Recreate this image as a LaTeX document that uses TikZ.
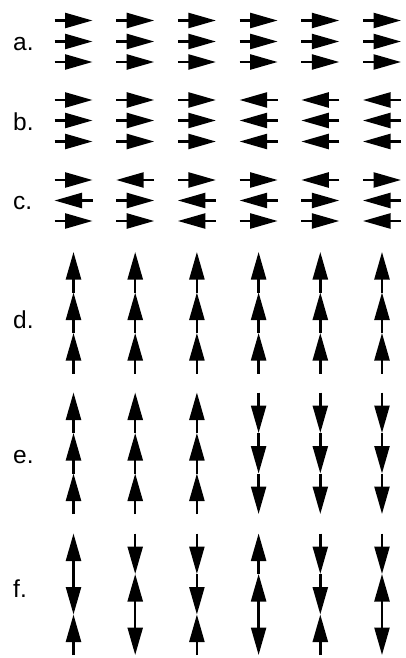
\documentclass[tikz,border=0pt]{standalone}
\usepackage{fontspec}
\setmainfont{Liberation Sans}
\usetikzlibrary{arrows.meta}
\begin{document}
\begin{tikzpicture}[x=1pt,y=-1pt,
  spin/.style={line width=2.4pt, -{Triangle[length=27.5pt,width=15pt]}},
  rowlabel/.style={anchor=base west, inner sep=0pt, font=\fontsize{24.5}{28}\selectfont}]
\useasboundingbox (0,0) rectangle (406,658);

% row labels
\node[rowlabel] (la) at (13,51)  {a.};
\node[rowlabel] (lb) at (13,130) {b.};
\node[rowlabel] (lc) at (13,209) {c.};
\node[rowlabel] (ld) at (13,328) {d.};
\node[rowlabel] (le) at (13,463) {e.};
\node[rowlabel] (lf) at (13,597) {f.};

% horizontal spins: +1 points right, -1 points left
\foreach \r/\y/\dirs in {
  a1/20.5/{1,1,1,1,1,1}, a2/41.5/{1,1,1,1,1,1}, a3/62/{1,1,1,1,1,1},
  b1/100/{1,1,1,-1,-1,-1}, b2/120.5/{1,1,1,-1,-1,-1}, b3/141.5/{1,1,1,-1,-1,-1},
  c1/180/{1,-1,1,1,-1,1}, c2/200.5/{-1,1,-1,-1,1,-1}, c3/221/{1,1,-1,1,1,-1}}{
  \foreach \s [count=\i] in \dirs {
    \pgfmathsetmacro\xa{73.5+61.7*(\i-1)-19*\s}
    \pgfmathsetmacro\xb{73.5+61.7*(\i-1)+19*\s}
    \coordinate (t-\r-\i) at (\xa,\y);
    \coordinate (h-\r-\i) at (\xb,\y);
    \draw[spin] (t-\r-\i) -- (h-\r-\i);
  }
}

% vertical spins, three per column from top to bottom: +1 up, -1 down
\foreach \r/\ytop/\cols in {
  d/252/{{1,1,1},{1,1,1},{1,1,1},{1,1,1},{1,1,1},{1,1,1}},
  e/392.5/{{1,1,1},{1,1,1},{1,1,1},{-1,-1,-1},{-1,-1,-1},{-1,-1,-1}},
  f/533.5/{{1,-1,1},{-1,1,-1},{-1,-1,1},{1,1,-1},{-1,-1,1},{-1,1,-1}}}{
  \foreach \col [count=\i] in \cols {
    \pgfmathsetmacro\cx{73.5+61.7*(\i-1)}
    \foreach \s [count=\k] in \col {
      \pgfmathsetmacro\ya{\ytop+40.5*(\k-1)+20.25+20.25*\s}
      \pgfmathsetmacro\yb{\ytop+40.5*(\k-1)+20.25-20.25*\s}
      \coordinate (t-\r-\i-\k) at (\cx,\ya);
      \coordinate (h-\r-\i-\k) at (\cx,\yb);
      \draw[spin] (t-\r-\i-\k) -- (h-\r-\i-\k);
    }
  }
}
\end{tikzpicture}
\end{document}
